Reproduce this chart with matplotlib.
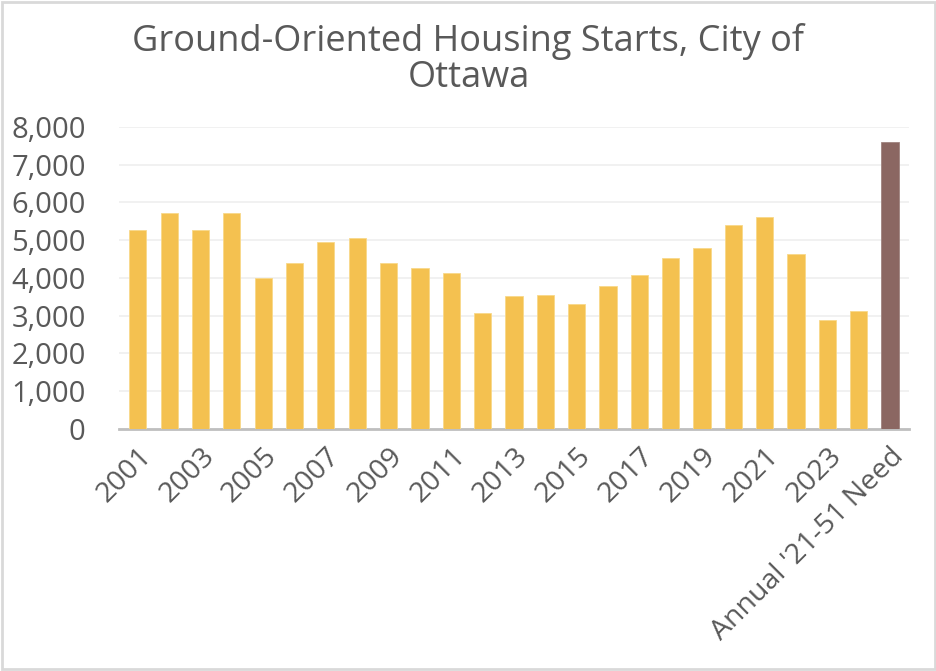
import matplotlib.pyplot as plt
import numpy as np

# ---------------------------------------------------------
# DATA
# ---------------------------------------------------------
categories = [str(y) for y in range(2001, 2025)] + ["Annual '21-51 Need"]
starts = [5270, 5720, 5270, 5720, 4000, 4400, 4950, 5060, 4400, 4260,
          4130, 3070, 3520, 3550, 3310, 3790, 4080, 4530, 4790, 5400,
          5620, 4640, 2890, 3130, 7600]

bar_colors = ["#F4C150"] * 24 + ["#8B6762"]
text_color = "#595959"

plt.rcParams["font.family"] = ["Open Sans", "DejaVu Sans"]

# ---------------------------------------------------------
# PLOT
# ---------------------------------------------------------
fig = plt.figure(figsize=(9.37, 6.71), dpi=100)
ax = fig.add_axes([0.127, 0.361, 0.843, 0.45])

x = np.arange(len(categories))
ax.bar(x, starts, width=0.55, color=bar_colors, edgecolor="#F8D98A",
       linewidth=0.6, zorder=3)
ax.patches[-1].set_edgecolor("#A08480")

ax.set_ylim(0, 8000)
ax.set_xlim(-0.6, len(categories) - 0.4)
ax.set_yticks(range(0, 8001, 1000))
ax.set_yticklabels([f"{v:,}" for v in range(0, 8001, 1000)],
                   fontsize=21, color=text_color)
ax.yaxis.grid(True, color="#EFEFEF", linewidth=1.2, zorder=0)

ax.set_xticks(x[::2])
ax.set_xticklabels(categories[::2], rotation=45, ha="right",
                   rotation_mode="anchor", fontsize=20.5, color=text_color)
ax.tick_params(axis="y", length=0, pad=24)
ax.tick_params(axis="x", length=0, pad=10)

for side in ["top", "right", "left"]:
    ax.spines[side].set_visible(False)
ax.spines["bottom"].set_color("#BFBFBF")
ax.spines["bottom"].set_linewidth(2)

fig.text(0.5, 0.965, "Ground-Oriented Housing Starts, City of\nOttawa",
         ha="center", va="top", fontsize=26, color=text_color,
         linespacing=1.0)

# figure border
fig.patches.append(plt.Rectangle((0.002, 0.003), 0.996, 0.994,
                                 transform=fig.transFigure, fill=False,
                                 edgecolor="#D9D9D9", linewidth=2))

plt.savefig("out.png", dpi=100)
plt.close()
